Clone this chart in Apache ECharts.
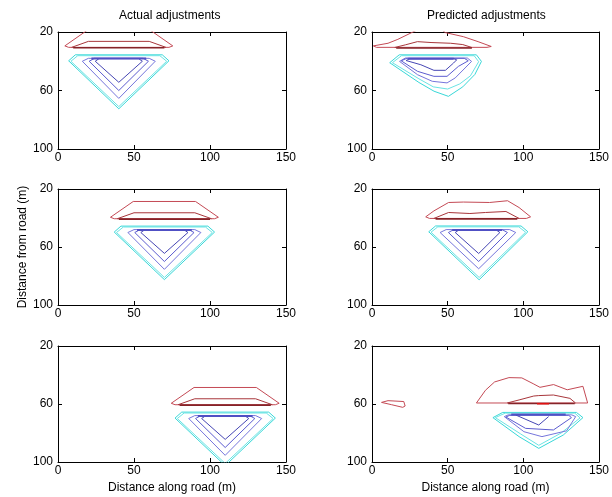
<!DOCTYPE html>
<html>
<head>
<meta charset="utf-8">
<script src="https://cdn.jsdelivr.net/npm/echarts@6/dist/echarts.min.js"></script>
<style>
  html, body { margin: 0; padding: 0; background: #fff; }
  #chart { width: 612px; height: 497px; }
</style>
</head>
<body>
<div id="chart"></div>
<script>
// axes
var xTicks = [0, 50, 100, 150]
var yTicks = [20, 60, 100]
var panelTitles = ['Actual adjustments', 'Predicted adjustments']
var xName = 'Distance along road (m)'
var yName = 'Distance from road (m)'

// ---- row 1, actual ----
var redOuterA1 = [[19.5, 18.6], [60.5, 18.6], [75.5, 29.5], [73, 30.5], [7, 30.5], [4.5, 29.5], [19.5, 18.6]]
var redInnerA1 = [[9, 30.5], [20, 26.4], [60, 26.4], [71, 30.5]]
var redBaseA1 = [[10, 30.8], [70, 30.8]]
var cyanOuterA1 = [[7, 39.7], [11.4, 35.6], [68.6, 35.6], [73, 39.7], [40, 72.5], [7, 39.7]]
var cyanInnerA1 = [[8.5, 40], [13, 36.2], [67, 36.2], [71.5, 40], [40, 71], [8.5, 40]]
var blue1A1 = [[16, 40], [20, 38], [60, 38], [64, 40], [40, 65.4], [16, 40]]
var blue2A1 = [[20.5, 40], [24, 38], [56, 38], [59.5, 40], [40, 60], [20.5, 40]]
var blue3A1 = [[24.5, 40], [27, 38.2], [53, 38.2], [55.5, 40], [40, 54.4], [24.5, 40]]
var blueTopA1 = [[22, 38.2], [58, 38.2]]

// ---- row 1, predicted ----
var redOuterP1 = [[30, 18.5], [17.1, 25], [10.6, 27.7], [0.9, 29.5], [3, 30.5], [76, 30.5], [78.8, 29.9], [70.1, 26.6], [60.4, 23.2], [48.5, 20.4], [46, 18.5]]
var redInnerP1 = [[15, 30.6], [22, 28.8], [30, 26.6], [39, 27.2], [52, 27.7], [60, 28.6], [66, 30.6]]
var redBaseP1 = [[16, 30.9], [66, 30.9]]
var cyanOuterP1 = [[11.7, 41], [18, 35.6], [69, 35.6], [72.3, 40.1], [68, 49], [60, 57.5], [50.5, 64], [41, 60.5], [31, 54.5], [11.7, 41]]
var cyanInnerP1 = [[13.5, 41], [19.5, 36.2], [67.5, 36.2], [70.5, 40.3], [65, 50], [58, 55.5], [50, 59], [40.5, 57.5], [31, 52], [13.5, 41]]
var blue1P1 = [[18.2, 40.1], [22, 37.8], [63, 37.8], [65.8, 40.1], [61.5, 44.6], [55, 51.4], [49.6, 54.8], [39.8, 53.7], [30.1, 49.2], [18.2, 40.1]]
var blue2P1 = [[19.3, 39.7], [23, 38], [61, 38], [63.6, 39.7], [57.1, 43.5], [49.6, 50.3], [40.9, 50.3], [30.1, 46.9], [19.3, 39.7]]
var blue3P1 = [[22.5, 39.5], [25, 38.3], [54, 38.3], [56, 39], [53.9, 41.2], [48.5, 46.2], [40.9, 46.2], [32.3, 42.4], [22.5, 39.5]]
var blueTopP1 = [[24, 38.3], [54, 38.3]]

// ---- row 2, actual ----
var redOuterA2 = [[49.5, 28.6], [90.5, 28.6], [105.5, 39.5], [103, 40.5], [37, 40.5], [34.5, 39.5], [49.5, 28.6]]
var redInnerA2 = [[39, 40.5], [50, 36.4], [90, 36.4], [101, 40.5]]
var redBaseA2 = [[40, 40.8], [100, 40.8]]
var cyanOuterA2 = [[37, 49.7], [41.4, 45.6], [98.6, 45.6], [103, 49.7], [70, 82.5], [37, 49.7]]
var cyanInnerA2 = [[38.5, 50], [43, 46.2], [97, 46.2], [101.5, 50], [70, 81], [38.5, 50]]
var blue1A2 = [[46, 50], [50, 48], [90, 48], [94, 50], [70, 75.4], [46, 50]]
var blue2A2 = [[50.5, 50], [54, 48], [86, 48], [89.5, 50], [70, 70], [50.5, 50]]
var blue3A2 = [[54.5, 50], [57, 48.2], [83, 48.2], [85.5, 50], [70, 64.4], [54.5, 50]]
var blueTopA2 = [[52, 48.2], [88, 48.2]]

// ---- row 2, predicted ----
var redOuterP2 = [[35.5, 39.2], [40.9, 35.1], [50.6, 29.3], [60.4, 29], [77.7, 29.3], [89.6, 28.1], [97.2, 32.8], [104.8, 39.2], [102, 40.3], [38, 40.3], [35.5, 39.2]]
var redInnerP2 = [[40.9, 40.3], [50.6, 36.2], [64.7, 36.9], [75, 36.2], [88.5, 35.5], [97.2, 40.3]]
var redBaseP2 = [[42, 40.6], [96, 40.6]]
var cyanOuterP2 = [[37.5, 49.5], [42, 45.5], [98.5, 45.5], [103, 49.5], [70.8, 82.6], [37.5, 49.5]]
var cyanInnerP2 = [[39, 49.8], [43.5, 46.1], [97, 46.1], [101.5, 49.8], [70.8, 81], [39, 49.8]]
var blue1P2 = [[45, 50], [49, 48], [91, 48], [95, 50], [70.5, 75], [45, 50]]
var blue2P2 = [[50.5, 50], [54, 48], [86, 48], [89.5, 50], [70.5, 70], [50.5, 50]]
var blue3P2 = [[55, 50], [57.5, 48.2], [82, 48.2], [84.5, 50], [70.5, 64.5], [55, 50]]
var blueTopP2 = [[53, 48.2], [86, 48.2]]

// ---- row 3, actual ----
var redOuterA3 = [[89.5, 48.6], [130.5, 48.6], [145.5, 59.5], [143, 60.5], [77, 60.5], [74.5, 59.5], [89.5, 48.6]]
var redInnerA3 = [[79, 60.5], [90, 56.4], [130, 56.4], [141, 60.5]]
var redBaseA3 = [[80, 60.8], [140, 60.8]]
var cyanOuterA3 = [[77, 69.7], [81.4, 65.6], [138.6, 65.6], [143, 69.7], [110, 102.5], [77, 69.7]]
var cyanInnerA3 = [[78.5, 70], [83, 66.2], [137, 66.2], [141.5, 70], [110, 101], [78.5, 70]]
var blue1A3 = [[86, 70], [90, 68], [130, 68], [134, 70], [110, 95.4], [86, 70]]
var blue2A3 = [[90.5, 70], [94, 68], [126, 68], [129.5, 70], [110, 90], [90.5, 70]]
var blue3A3 = [[94.5, 70], [97, 68.2], [123, 68.2], [125.5, 70], [110, 84.4], [94.5, 70]]
var blueTopA3 = [[92, 68.2], [128, 68.2]]

// ---- row 3, predicted ----
var redBlobP3 = [[6.3, 58.9], [10.6, 57.7], [21, 58.3], [21.9, 61.4], [20.3, 62.3], [13, 60.5], [6.3, 58.9]]
var redOuterP3 = [[69, 59.3], [75, 50.5], [81, 44.8], [90.5, 41.8], [99, 42], [106.5, 46], [111, 48.5], [120, 46.6], [129, 50.2], [139.4, 47.8], [142.5, 59.3], [69, 59.3]]
var redInnerP3 = [[89.3, 59.3], [97.2, 57.2], [106.9, 54.5], [110.2, 54.2], [119.9, 53.8], [130.8, 56.1], [134.5, 59.3]]
var redBaseP3 = [[90, 59.7], [134, 59.7]]
var redHotP3 = [[109, 59.8], [117, 59.8]]
var cyanOuterP3 = [[79.9, 69.4], [86.4, 65.8], [135.1, 65.8], [139.4, 69.4], [126.4, 81.4], [110.2, 90.6], [97.2, 82.5], [79.9, 69.4]]
var cyanInnerP3 = [[81.5, 69.4], [88, 66.3], [134, 66.3], [137.5, 69.6], [125, 80], [110.2, 88.5], [98, 80.5], [81.5, 69.4]]
var blue1P3 = [[87.4, 68.7], [90, 67.5], [132, 67.5], [134.6, 68.7], [128.6, 78.5], [112.3, 82.5], [100.4, 79.1], [87.4, 68.7]]
var blue2P3 = [[88.5, 69], [91, 67.8], [130, 67.8], [131.8, 69.4], [119.9, 77.9], [101.5, 76.8], [88.5, 69]]
var blue3P3 = [[95, 67.6], [110.2, 74.5], [116.7, 68.7]]
var blueTopP3 = [[92, 67.2], [128, 67.2]]

var colRedOuter = '#c44a55'
var colRedInner = '#a8363b'
var colRedBase = '#862328'
var colRedHot = '#e01010'
var colCyanOuter = '#38d8d8'
var colCyanInner = '#6ae4e4'
var colBlue1 = '#7676dc'
var colBlue2 = '#5c5cd0'
var colBlue3 = '#4646b4'
var colBlueTop = '#5050c4'

var panels = [
  [redOuterA1, redInnerA1, redBaseA1, cyanOuterA1, cyanInnerA1, blue1A1, blue2A1, blue3A1, blueTopA1],
  [redOuterP1, redInnerP1, redBaseP1, cyanOuterP1, cyanInnerP1, blue1P1, blue2P1, blue3P1, blueTopP1],
  [redOuterA2, redInnerA2, redBaseA2, cyanOuterA2, cyanInnerA2, blue1A2, blue2A2, blue3A2, blueTopA2],
  [redOuterP2, redInnerP2, redBaseP2, cyanOuterP2, cyanInnerP2, blue1P2, blue2P2, blue3P2, blueTopP2],
  [redOuterA3, redInnerA3, redBaseA3, cyanOuterA3, cyanInnerA3, blue1A3, blue2A3, blue3A3, blueTopA3],
  [redOuterP3, redInnerP3, redBaseP3, cyanOuterP3, cyanInnerP3, blue1P3, blue2P3, blue3P3, blueTopP3]
]
var levelColors = [colRedOuter, colRedInner, colRedBase, colCyanOuter, colCyanInner, colBlue1, colBlue2, colBlue3, colBlueTop]
var levelWidths = [1, 1, 1.6, 1, 1, 1, 1, 1, 2]

var grids = [
  { left: 58, top: 32, width: 228, height: 117 },
  { left: 372, top: 32, width: 231, height: 117 },
  { left: 58, top: 189, width: 228, height: 116 },
  { left: 372, top: 189, width: 231, height: 116 },
  { left: 58, top: 346, width: 228, height: 116 },
  { left: 372, top: 346, width: 231, height: 116 }
]

var font = 'Liberation Sans, Arial, sans-serif'
var xAxes = []
var yAxes = []
var series = []

grids.forEach(function (g, i) {
  var base = {
    gridIndex: i,
    type: 'value',
    axisLine: { show: true, onZero: false, lineStyle: { color: '#000', width: 1 } },
    axisTick: { show: true, inside: true, length: 4, lineStyle: { color: '#000' } },
    splitLine: { show: false }
  }
  xAxes.push(Object.assign({}, base, {
    position: 'bottom', min: xTicks[0], max: xTicks[xTicks.length - 1], interval: 50,
    axisLabel: { color: '#000', fontSize: 12, fontFamily: font, margin: 3 },
    name: i >= 4 ? xName : '',
    nameLocation: 'middle',
    nameGap: 20,
    nameTextStyle: { color: '#000', fontSize: 12, fontFamily: font }
  }))
  xAxes.push(Object.assign({}, base, {
    position: 'top', min: xTicks[0], max: xTicks[xTicks.length - 1], interval: 50,
    axisLabel: { show: false }
  }))
  yAxes.push(Object.assign({}, base, {
    position: 'left', min: yTicks[0], max: yTicks[yTicks.length - 1], interval: 40, inverse: true,
    axisLabel: { color: '#000', fontSize: 12, fontFamily: font, margin: 5 },
    name: i === 2 ? yName : '',
    nameLocation: 'middle',
    nameGap: 29,
    nameRotate: 90,
    nameTextStyle: { color: '#000', fontSize: 12, fontFamily: font }
  }))
  yAxes.push(Object.assign({}, base, {
    position: 'right', min: yTicks[0], max: yTicks[yTicks.length - 1], interval: 40, inverse: true,
    axisLabel: { show: false }
  }))

  panels[i].forEach(function (line, k) {
    series.push({
      type: 'line',
      xAxisIndex: i * 2,
      yAxisIndex: i * 2,
      data: line,
      showSymbol: false,
      symbol: 'none',
      clip: true,
      silent: true,
      lineStyle: { color: levelColors[k], width: levelWidths[k] },
      z: 3
    })
  })
})
// extra pieces only in the last predicted panel
series.push({
  type: 'line', xAxisIndex: 10, yAxisIndex: 10, data: redBlobP3, symbol: 'none', clip: true, silent: true,
  lineStyle: { color: colRedOuter, width: 1 }
})
series.push({
  type: 'line', xAxisIndex: 10, yAxisIndex: 10, data: redHotP3, symbol: 'none', clip: true, silent: true,
  lineStyle: { color: colRedHot, width: 1.5 }, z: 4
})

var chart = echarts.init(document.getElementById('chart'), null, { renderer: 'canvas' })
chart.setOption({
  animation: false,
  backgroundColor: '#fff',
  grid: grids,
  xAxis: xAxes,
  yAxis: yAxes,
  series: series,
  graphic: [
    { type: 'text', left: 172 - 53, top: 10, style: { text: panelTitles[0], fill: '#000', font: '12px ' + font } },
    { type: 'text', left: 487 - 60, top: 10, style: { text: panelTitles[1], fill: '#000', font: '12px ' + font } }
  ]
})
</script>
</body>
</html>
